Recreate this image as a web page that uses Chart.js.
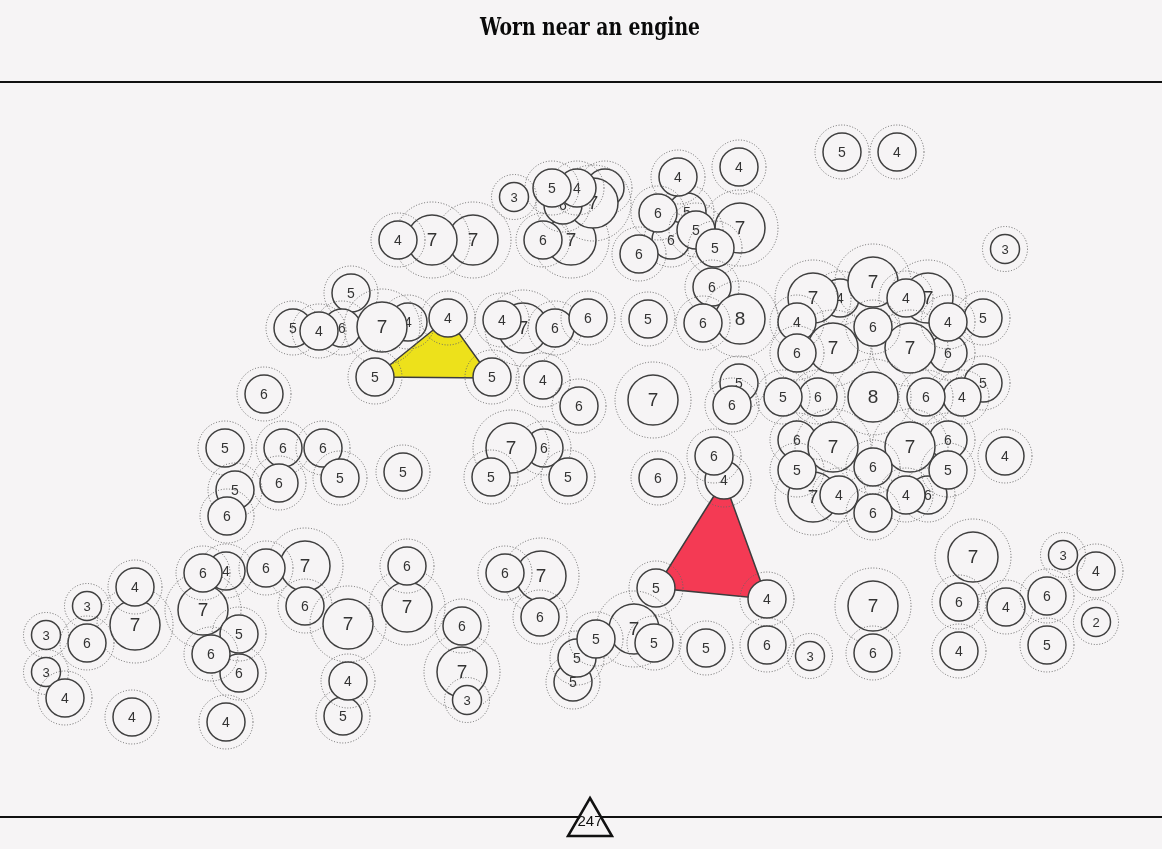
<!DOCTYPE html>
<html>
<head>
<meta charset="utf-8">
<script src="https://cdn.jsdelivr.net/npm/chart.js@4.4.0/dist/chart.umd.min.js"></script>
<style>
  html, body { margin: 0; padding: 0; background: #f6f4f5; }
  #wrap { width: 1162px; height: 849px; position: relative; }
</style>
</head>
<body>
<div id="wrap"><canvas id="c"></canvas></div>
<script>
// ---------------- data (pixel-space coordinates) ----------------
const TITLE = 'Worn near an engine';
const PAGE_NUMBER = '247';

// circle centres (x), in drawing order, grouped by cluster
const xs = [
  842, 897, 739, 1005,
  571, 543, 605, 593, 563, 577, 552, 514,
  740, 687, 671, 678, 658, 696, 715, 639,
  473, 432, 398,
  712, 740, 703, 648,
  351, 408, 342, 293, 382, 319, 448,
  523, 555, 588, 502,
  375, 492, 543, 579, 264, 653, 739, 732,
  225, 283, 323, 340, 279, 235, 227, 403,
  544, 511, 491, 568, 658, 724, 714,
  840, 813, 873, 928, 906, 983, 948, 910, 948, 833, 797, 797, 873,
  983, 962, 926, 873, 818, 783,
  797, 948, 833, 910, 873, 928, 906, 948, 813, 797, 839, 873,
  1005,
  135, 135, 87, 87, 46, 46, 65, 132,
  226, 203, 203, 305, 266, 305, 239, 239, 211, 226,
  348, 343, 348,
  407, 407, 462, 462, 467,
  541, 505, 540,
  656, 767,
  573, 577, 634, 596, 654, 706, 767, 810,
  973, 959, 1096, 1063, 1006, 1047, 1096, 959, 1047, 873, 873
];
// circle centres (y)
const ys = [
  152, 152, 167, 249,
  240, 240, 188, 203, 205, 188, 188, 197,
  228, 212, 240, 177, 213, 230, 248, 254,
  240, 240, 240,
  287, 319, 323, 319,
  293, 322, 328, 328, 327, 331, 318,
  328, 328, 318, 320,
  377, 377, 380, 406, 394, 400, 383, 405,
  448, 448, 448, 478, 483, 490, 516, 472,
  448, 448, 477, 477, 478, 480, 456,
  298, 298, 282, 298, 298, 318, 353, 348, 322, 348, 322, 353, 327,
  383, 397, 397, 397, 397, 397,
  440, 440, 447, 447, 467, 495, 495, 470, 497, 470, 495, 513,
  456,
  625, 587, 606, 643, 635, 672, 698, 717,
  571, 610, 573, 566, 568, 606, 673, 634, 654, 722,
  624, 716, 681,
  607, 566, 672, 626, 700,
  576, 573, 617,
  588, 599,
  682, 658, 629, 639, 643, 648, 645, 656,
  557, 602, 571, 555, 607, 596, 622, 651, 645, 606, 653
];
// number printed in each circle
const vals = [
  5, 4, 4, 3,
  7, 6, 5, 7, 6, 4, 5, 3,
  7, 5, 6, 4, 6, 5, 5, 6,
  7, 7, 4,
  6, 8, 6, 5,
  5, 4, 6, 5, 7, 4, 4,
  7, 6, 6, 4,
  5, 5, 4, 6, 6, 7, 5, 6,
  5, 6, 6, 5, 6, 5, 6, 5,
  6, 7, 5, 5, 6, 4, 6,
  4, 7, 7, 7, 4, 5, 6, 7, 4, 7, 4, 6, 6,
  5, 4, 6, 8, 6, 5,
  6, 6, 7, 7, 6, 6, 4, 5, 7, 5, 4, 6,
  4,
  7, 4, 3, 6, 3, 3, 4, 4,
  4, 7, 6, 7, 6, 6, 6, 5, 6, 4,
  7, 5, 4,
  7, 6, 7, 6, 3,
  7, 6, 6,
  5, 4,
  5, 5, 7, 5, 5, 5, 6, 3,
  7, 6, 4, 3, 4, 6, 2, 4, 5, 7, 6
];

// the two highlighted triangles (vertices at circle centres)
const yellowX = [375, 448, 491];
const yellowY = [377, 318, 378];
const redX = [724, 656, 767];
const redY = [480, 588, 599];

// ---------------- styling helpers ----------------
const BG = '#f6f4f5';
function innerR(v) { return v <= 3 ? 14.5 : (v <= 6 ? 19 : 25); }
function outerR(v) { return v <= 3 ? 22.5 : (v <= 6 ? 27 : 38); }
function fontPx(v) { return v <= 3 ? 13 : (v <= 6 ? 14 : 19); }

function closedPoly(px, py) {
  const pts = px.map((x, i) => ({ x: x, y: py[i] }));
  pts.push({ x: px[0], y: py[0] });
  return pts;
}

const circleData = xs.map((x, i) => ({ x: x, y: ys[i], v: vals[i] }));

// draw each circle as a unit: dotted halo, solid disc (the Chart.js point), number
const circlePlugin = {
  id: 'circleUnits',
  beforeDatasetDraw(chart, args) {
    if (args.meta.type !== 'scatter') return;
    const ctx = chart.ctx;
    const ds = chart.data.datasets[args.index];
    ctx.save();
    args.meta.data.forEach((pt, i) => {
      const v = ds.data[i].v;
      ctx.save();
      ctx.beginPath();
      ctx.setLineDash([1, 1.8]);
      ctx.lineWidth = 1;
      ctx.strokeStyle = '#666666';
      ctx.arc(pt.x, pt.y, outerR(v), 0, Math.PI * 2);
      ctx.stroke();
      ctx.restore();
      ctx.save();
      ctx.setLineDash([]);
      pt.draw(ctx, chart.chartArea);
      ctx.restore();
      ctx.save();
      ctx.fillStyle = '#333333';
      ctx.font = fontPx(v) + "px 'Liberation Sans', Arial, sans-serif";
      ctx.textAlign = 'center';
      ctx.textBaseline = 'middle';
      ctx.fillText(String(v), pt.x, pt.y + 1);
      ctx.restore();
    });
    ctx.restore();
    return false;
  }
};

// title, frame rules and the page marker
const framePlugin = {
  id: 'frame',
  beforeDatasetsDraw(chart) {
    const ctx = chart.ctx;
    const a = chart.chartArea;
    ctx.save();
    ctx.strokeStyle = '#111111';
    ctx.lineWidth = 2;
    ctx.beginPath();
    ctx.moveTo(0, a.top); ctx.lineTo(chart.width, a.top);
    ctx.moveTo(0, a.bottom); ctx.lineTo(chart.width, a.bottom);
    ctx.stroke();
    // heavy condensed slab title
    ctx.font = "bold 25px 'DejaVu Serif', serif";
    const w = ctx.measureText(TITLE).width;
    const sx = Math.min(1, 220 / w);
    ctx.translate(chart.scales.x.getPixelForValue(590), 35);
    ctx.scale(sx, 1);
    ctx.fillStyle = '#0a0a0a';
    ctx.textAlign = 'center';
    ctx.textBaseline = 'alphabetic';
    ctx.fillText(TITLE, 0, 0);
    ctx.restore();
  },
  afterDatasetsDraw(chart) {
    const ctx = chart.ctx;
    const a = chart.chartArea;
    const cx = chart.scales.x.getPixelForValue(590);
    const cy = a.bottom;
    ctx.save();
    ctx.beginPath();
    ctx.moveTo(cx, cy - 19);
    ctx.lineTo(cx + 22, cy + 19);
    ctx.lineTo(cx - 22, cy + 19);
    ctx.closePath();
    ctx.fillStyle = BG;
    ctx.fill();
    ctx.lineWidth = 2.5;
    ctx.lineJoin = 'miter';
    ctx.strokeStyle = '#111111';
    ctx.stroke();
    ctx.fillStyle = '#111111';
    ctx.font = "15px 'Liberation Sans', Arial, sans-serif";
    ctx.textAlign = 'center';
    ctx.textBaseline = 'middle';
    ctx.fillText(PAGE_NUMBER, cx, cy + 5);
    ctx.restore();
  }
};

new Chart(document.getElementById('c'), {
  type: 'scatter',
  data: {
    datasets: [
      {
        data: circleData,
        order: 0,
        pointStyle: 'circle',
        pointRadius: (c) => innerR(vals[c.dataIndex]),
        pointHoverRadius: (c) => innerR(vals[c.dataIndex]),
        pointBackgroundColor: BG,
        pointBorderColor: '#3f3f3f',
        pointBorderWidth: 1.5
      },
      {
        type: 'line',
        data: closedPoly(yellowX, yellowY),
        order: 2,
        fill: 'shape',
        backgroundColor: '#ede11b',
        borderColor: '#3c3c3c',
        borderWidth: 1.5,
        pointRadius: 0,
        tension: 0
      },
      {
        type: 'line',
        data: closedPoly(redX, redY),
        order: 2,
        fill: 'shape',
        backgroundColor: '#f43a54',
        borderColor: '#3c3c3c',
        borderWidth: 1.5,
        pointRadius: 0,
        tension: 0
      }
    ]
  },
  options: {
    responsive: true,
    maintainAspectRatio: false,
    animation: false,
    events: [],
    layout: { autoPadding: false, padding: { left: 0, right: 0, top: 82, bottom: 32 } },
    scales: {
      x: { type: 'linear', min: 0, max: 1162, display: false },
      y: { type: 'linear', min: 82, max: 817, reverse: true, display: false }
    },
    plugins: {
      legend: { display: false },
      tooltip: { enabled: false },
      title: { display: false }
    }
  },
  plugins: [circlePlugin, framePlugin]
});
</script>
</body>
</html>
